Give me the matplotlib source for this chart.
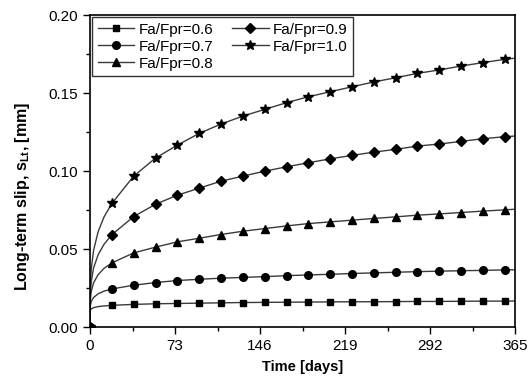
import matplotlib
matplotlib.use('Agg')
import matplotlib.pyplot as plt
from matplotlib.ticker import MultipleLocator

plt.rcParams['font.family'] = ['Liberation Sans', 'DejaVu Sans']
plt.rcParams['mathtext.fontset'] = 'custom'
plt.rcParams['mathtext.rm'] = 'Liberation Sans'
plt.rcParams['mathtext.bf'] = 'Liberation Sans:bold'

# early part of the curves (days)
days_early = [0, 0.3, 1, 3, 7, 12]
# days where the markers sit
days_mark = [18.75, 37.5, 56.25, 75, 93.75, 112.5, 131.25, 150, 168.75, 187.5,
             206.25, 225, 243.75, 262.5, 281.25, 300, 318.75, 337.5, 356.25]
day_end = 365

labels = ['Fa/Fpr=0.6', 'Fa/Fpr=0.7', 'Fa/Fpr=0.8', 'Fa/Fpr=0.9', 'Fa/Fpr=1.0']
markers = ['s', 'o', '^', 'D', '*']
msizes = [5, 5.5, 6, 5, 7.5]

early_06 = [0, 0.0108, 0.0116, 0.0124, 0.0131, 0.0135]
mark_06 = [0.0139, 0.0145, 0.0149, 0.0151, 0.0153, 0.0155, 0.0157, 0.0158, 0.0159, 0.0160,
           0.0161, 0.0162, 0.0162, 0.0163, 0.0164, 0.0164, 0.0165, 0.0166, 0.0166]
end_06 = 0.0167

early_07 = [0, 0.0138, 0.0163, 0.0189, 0.0213, 0.0230]
mark_07 = [0.0244, 0.0268, 0.0285, 0.0298, 0.0306, 0.0313, 0.0318, 0.0323, 0.0329, 0.0334,
           0.0338, 0.0343, 0.0347, 0.0351, 0.0355, 0.0358, 0.0361, 0.0363, 0.0366]
end_07 = 0.0367

early_08 = [0, 0.0177, 0.0226, 0.0283, 0.0336, 0.0376]
mark_08 = [0.0411, 0.0475, 0.0512, 0.0546, 0.0569, 0.0593, 0.0614, 0.0631, 0.0648, 0.0663,
           0.0674, 0.0685, 0.0696, 0.0706, 0.0717, 0.0725, 0.0734, 0.0743, 0.0751]
end_08 = 0.0755

early_09 = [0, 0.0215, 0.0288, 0.0377, 0.0464, 0.0530]
mark_09 = [0.0592, 0.0708, 0.0787, 0.0845, 0.0890, 0.0935, 0.0967, 0.0999, 0.1027, 0.1053,
           0.1078, 0.1100, 0.1121, 0.1139, 0.1160, 0.1173, 0.1190, 0.1207, 0.1220]
end_09 = 0.1224

early_10 = [0, 0.0267, 0.0367, 0.0490, 0.0612, 0.0705]
mark_10 = [0.0792, 0.0967, 0.1083, 0.1166, 0.1241, 0.1301, 0.1352, 0.1395, 0.1438, 0.1476,
           0.1508, 0.1540, 0.1571, 0.1598, 0.1626, 0.1648, 0.1673, 0.1695, 0.1716]
end_10 = 0.1723

series = [(early_06, mark_06, end_06), (early_07, mark_07, end_07), (early_08, mark_08, end_08),
          (early_09, mark_09, end_09), (early_10, mark_10, end_10)]

fig = plt.figure(figsize=(5.28, 3.85), dpi=100)
ax = fig.add_axes([0.1705, 0.1506, 0.8049, 0.8104])

x_all = days_early + days_mark + [day_end]
n0 = len(days_early)
mark_idx = [0] + list(range(n0, n0 + len(days_mark)))

for (early, mark, end), lab, mk, ms in zip(series, labels, markers, msizes):
    y_all = early + mark + [end]
    ax.plot(x_all, y_all, color='#3a3a3a', lw=1.0, marker=mk, markersize=ms,
            markerfacecolor='black', markeredgecolor='black', markevery=mark_idx,
            label=lab)

ax.set_xlim(0, 365)
ax.set_ylim(0, 0.20)
ax.xaxis.set_major_locator(MultipleLocator(73))
ax.xaxis.set_minor_locator(MultipleLocator(36.5))
ax.yaxis.set_major_locator(MultipleLocator(0.05))
ax.yaxis.set_minor_locator(MultipleLocator(0.025))
ax.yaxis.set_major_formatter(plt.FormatStrFormatter('%.2f'))
ax.tick_params(which='major', direction='out', length=5, width=1, labelsize=11)
ax.tick_params(which='minor', direction='out', length=3, width=1)
for sp in ax.spines.values():
    sp.set_linewidth(1.2)

ax.set_xlabel('Time [days]', fontsize=10.5, fontweight='bold', labelpad=5)
ax.set_ylabel(r'Long-term slip, s$_{\mathbf{Lt}}$, [mm]', fontsize=11.5, fontweight='bold')
ax.yaxis.set_label_coords(-0.136, 0.42)

leg = ax.legend(loc='upper left', ncol=2, fontsize=11, frameon=True, fancybox=False,
                edgecolor='black', borderaxespad=0.15, handlelength=2.4,
                columnspacing=1.2, labelspacing=0.2, handletextpad=0.3, borderpad=0.35)
leg.get_frame().set_linewidth(1.0)

fig.savefig('out.png', dpi=100)
